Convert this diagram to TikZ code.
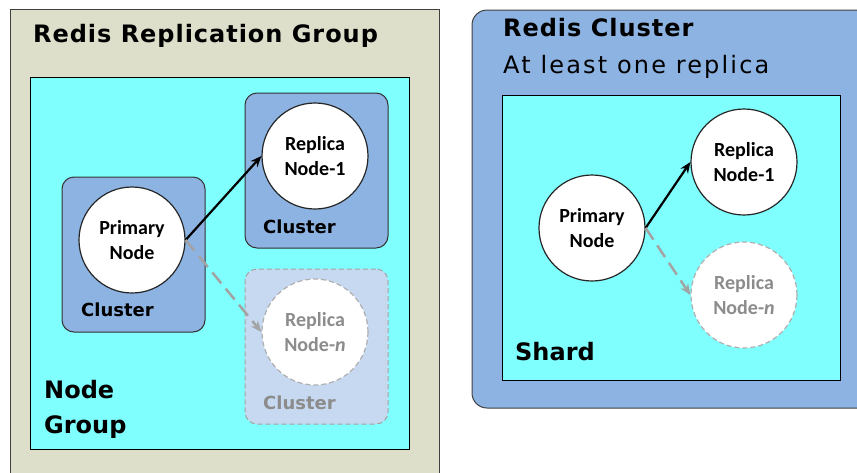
\documentclass[tikz,border=0pt]{standalone}
\usepackage{fontspec}
\setmainfont{DejaVu Sans}
\newfontfamily\calfont{Carlito}
\newfontfamily\widefont[LetterSpace=4]{DejaVu Sans}
\newfontfamily\widerfont[LetterSpace=9]{DejaVu Sans}
\usetikzlibrary{arrows.meta}
\definecolor{rgback}{HTML}{DDDFCB}
\definecolor{rcyan}{HTML}{80FFFF}
\definecolor{rblue}{HTML}{8DB3E2}
\definecolor{rpale}{HTML}{C6D9F1}
\definecolor{rgray}{HTML}{8C8C8C}

\tikzset{
  panel/.style={draw=black!75, line width=1pt},
  clusterbox/.style={draw=black!80, line width=1pt, fill=rblue, rounded corners=12pt,
    minimum width=143pt, minimum height=155pt, inner sep=0pt},
  ghostbox/.style={clusterbox, draw=rgray!80, fill=rpale, dashed, dash pattern=on 5pt off 3pt},
  redisnode/.style={circle, draw=black!85, line width=1.2pt, fill=white, minimum size=106pt,
    inner sep=0pt, align=center, font=\calfont\bfseries\fontsize{20}{25}\selectfont},
  ghostnode/.style={redisnode, draw=rgray!70, dashed, dash pattern=on 5pt off 3pt, text=rgray},
  title/.style={anchor=base west, inner sep=0pt, font=\bfseries\fontsize{24}{28}\selectfont},
  sublabel/.style={anchor=base west, inner sep=0pt, font=\bfseries\fontsize{18}{22}\selectfont}
}

\begin{document}
\begin{tikzpicture}[x=1pt, y=-1pt, >={Stealth[length=11pt, width=9pt]}]
  \useasboundingbox (0,0) rectangle (857,472);

  % Replication group (left)
  \draw[panel, fill=rgback] (10,9) rectangle (439,490);
  \node[title, font=\widefont\bfseries\fontsize{24}{28}\selectfont] (rgtitle) at (33,42) {Redis Replication Group};
  \draw[panel, fill=rcyan, draw=black] (30,77) rectangle (409,449);
  \node[title] (ngA) at (44,398) {Node};
  \node[title] (ngB) at (44,433) {Group};

  \node[clusterbox] (cp) at (133.5,254.5) {};
  \node[clusterbox] (c1) at (316.5,170.5) {};
  \node[ghostbox] (cn) at (316.5,346.5) {};
  \node[sublabel] (lp) at (81,316) {Cluster};
  \node[sublabel] (l1) at (263,233) {Cluster};
  \node[sublabel, text=rgray] (ln) at (263,409) {Cluster};

  \node[redisnode] (p) at (132,240) {Primary\\Node};
  \node[redisnode] (r1) at (315,156) {Replica\\Node-1};
  \node[ghostnode] (rn) at (315,332) {Replica\\Node-\textit{n}};

  \draw[->, line width=2.2pt] (p.east) -- (r1.west);
  \draw[->, line width=2.5pt, rgray!80, dash pattern=on 14pt off 7pt] (p.east) -- (rn.west);

  % Redis cluster (right)
  \draw[panel, fill=rblue, rounded corners=15pt] (472,10) rectangle (880,408);
  \node[title, font=\widefont\bfseries\fontsize{24}{28}\selectfont] (rctitle) at (503,36) {Redis Cluster};
  \node[title, font=\widerfont\fontsize{24}{28}\selectfont] (rcsub) at (503,73) {At least one replica};
  \draw[panel, fill=rcyan, draw=black] (502,95) rectangle (840,380);
  \node[title] (shard) at (515,360) {Shard};

  \node[redisnode] (sp) at (592,228) {Primary\\Node};
  \node[redisnode] (s1) at (744,162) {Replica\\Node-1};
  \node[ghostnode] (sn) at (744,295) {Replica\\Node-\textit{n}};

  \draw[->, line width=2.2pt] (sp.east) -- (s1.west);
  \draw[->, line width=2.5pt, rgray!80, dash pattern=on 14pt off 7pt] (sp.east) -- (sn.west);
\end{tikzpicture}
\end{document}
